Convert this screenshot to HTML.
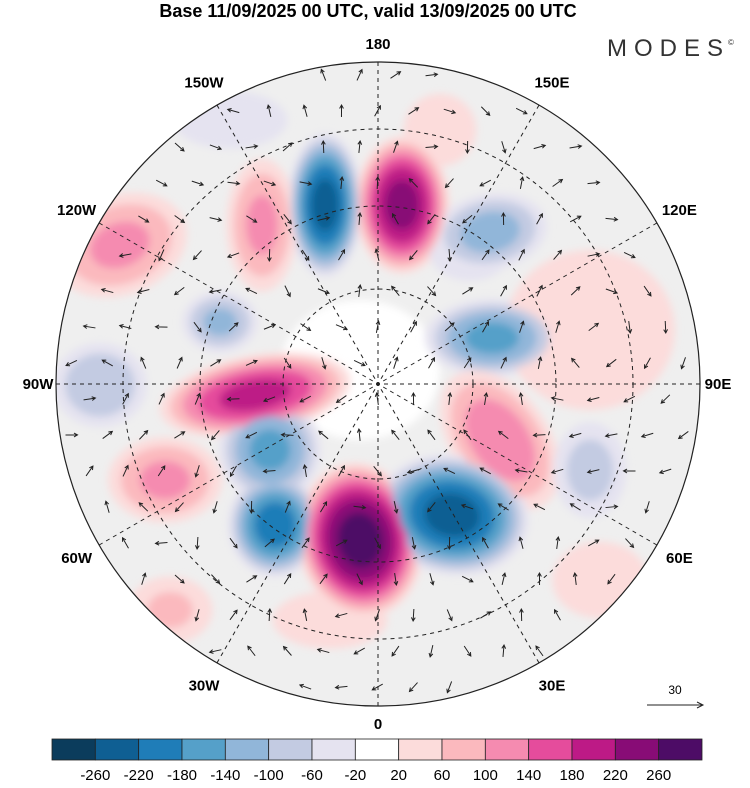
<!DOCTYPE html>
<html><head><meta charset="utf-8"><style>
body{margin:0;background:#fff;width:750px;height:783px;overflow:hidden;font-family:"Liberation Sans",sans-serif}
</style></head><body>
<svg id="s" width="750" height="783" viewBox="0 0 750 783" xmlns="http://www.w3.org/2000/svg">
<defs>
<clipPath id="cc"><circle cx="378" cy="384" r="322"/></clipPath>
<filter id="bl" x="-20%" y="-20%" width="140%" height="140%"><feGaussianBlur stdDeviation="4"/></filter>
</defs>
<text x="368" y="17" font-size="18" font-weight="bold" text-anchor="middle">Base 11/09/2025 00 UTC, valid 13/09/2025 00 UTC</text>
<text x="607" y="56" font-size="24" fill="#333" letter-spacing="7">MODES</text>
<text x="728" y="45" font-size="8" fill="#333">©</text>
<g id="map" clip-path="url(#cc)">
<circle cx="378" cy="384" r="322" fill="#efefef"/>
<ellipse cx="360" cy="370" rx="80" ry="70" fill="#fff" filter="url(#bl)"/>
<g id="blobs" filter="url(#bl)"></g>
<g id="arrows" stroke="#222" stroke-width="1" fill="none"></g>
<g id="grid" fill="none" stroke="#222" stroke-width="1" stroke-dasharray="4,4"></g>
</g>
<circle cx="378" cy="384" r="322" fill="none" stroke="#222" stroke-width="1.2"/>
<g id="lbl" font-size="15" font-weight="bold"></g>
<g>
<text x="675" y="694" font-size="12" text-anchor="middle">30</text>
<line x1="647" y1="705" x2="703" y2="705" stroke="#222" stroke-width="1"/>
<path d="M697,702 L703,705 L697,708" fill="none" stroke="#222"/>
</g>
<g id="cbar"></g>
</svg>
<script>
const levels=[-260,-220,-180,-140,-100,-60,-20,20,60,100,140,180,220,260];
const colors=["#0b3c5c","#0f5f93","#1f7db8","#55a0c9","#91b6d9","#c3cbe2","#e5e3f0","#ffffff","#fcdcdb","#fbb9be","#f58bb0","#e54c9c","#bd1a86","#880c76","#4d0c66"];
// blobs: cx, cy, rx, ry, rotation, peak value
const blobX=[325,402,262,490,120,220,492,100,255,590,500,270,275,165,360,452,590,170,330,470,600,230,440];
const blobY=[205,205,225,232,245,322,338,385,395,330,440,450,525,480,540,515,470,610,620,250,580,120,130];
const blobRX=[30,38,30,48,58,32,55,40,78,85,40,42,38,48,50,62,32,38,60,40,50,60,35];
const blobRY=[58,55,56,32,42,26,32,36,32,80,65,42,42,36,62,48,42,30,30,30,40,30,35];
const blobRot=[0,0,0,-10,-20,0,0,0,-10,0,-35,20,0,0,-10,10,0,0,0,0,0,0,0];
const blobVal=[-230,230,110,-120,110,-110,-150,-100,190,45,130,-150,-200,110,270,-230,-80,70,40,-50,40,-40,50];
const NS="http://www.w3.org/2000/svg";
function colorOf(v){let i=0;while(i<levels.length&&v>levels[i])i++;return colors[i];}
const bg=document.getElementById('blobs');
const layers=[];
blobVal.forEach((pk,b)=>{
  const sign=pk>0?1:-1;
  levels.filter(l=>sign>0?(l>0&&l<pk):(l<0&&l>pk)).forEach(lv=>layers.push([b,lv,sign,pk]));
});
layers.sort((a,c)=>Math.abs(a[1])-Math.abs(c[1]));
layers.forEach(([b,lv,sign,pk])=>{
  const f=Math.sqrt(1-Math.abs(lv)/Math.abs(pk)*0.92);
  const e=document.createElementNS(NS,'ellipse');
  
  
  e.setAttribute('cx',blobX[b]);e.setAttribute('cy',blobY[b]);
  e.setAttribute('rx',blobRX[b]*f*1.3);e.setAttribute('ry',blobRY[b]*f*1.3);
  e.setAttribute('transform',`rotate(${blobRot[b]} ${blobX[b]} ${blobY[b]})`);
  e.setAttribute('fill',colorOf(lv+sign*1));
  bg.appendChild(e);
});
const cx=378,cy=384,R=322;
const ag=document.getElementById('arrows');
for(let gy=75;gy<700;gy+=36){
  for(let gx=70+((gy/36)%2)*18;gx<700;gx+=36){
    if(Math.hypot(gx-cx,gy-cy)>R-8)continue;
    let u=0,v=0;
    blobVal.forEach((pk,b)=>{
      const dx=gx-blobX[b],dy=gy-blobY[b];
      const d2=(dx*dx+dy*dy)/(blobRX[b]*blobRY[b]*3);
      const w=Math.exp(-d2)*Math.sign(pk);
      u+=-dy*w;v+=dx*w;
    });
    const m=Math.hypot(u,v)||1;
    const L=12;const ux=u/m*L,vy=v/m*L;
    const p=document.createElementNS(NS,'path');
    
    
    const x2=gx+ux/2,y2=gy+vy/2;
    const ang=Math.atan2(vy,ux);
    const hx1=x2-4*Math.cos(ang-0.5),hy1=y2-4*Math.sin(ang-0.5);
    const hx2=x2-4*Math.cos(ang+0.5),hy2=y2-4*Math.sin(ang+0.5);
    p.setAttribute('d',`M${gx-ux/2},${gy-vy/2}L${x2},${y2}M${hx1},${hy1}L${x2},${y2}L${hx2},${hy2}`);
    ag.appendChild(p);
  }
}
const grid=document.getElementById('grid');
[95,178,255].forEach(r=>{
  const c=document.createElementNS(NS,'circle');
  
  
  c.setAttribute('cx',cx);c.setAttribute('cy',cy);c.setAttribute('r',r);grid.appendChild(c);
});
for(let a=0;a<180;a+=30){
  const t=a*Math.PI/180;
  const l=document.createElementNS(NS,'line');
  
  
  l.setAttribute('x1',cx+R*Math.sin(t));l.setAttribute('y1',cy+R*Math.cos(t));
  l.setAttribute('x2',cx-R*Math.sin(t));l.setAttribute('y2',cy-R*Math.cos(t));
  grid.appendChild(l);
}
const lonLabels=["0","30E","60E","90E","120E","150E","180","150W","120W","90W","60W","30W"];
const lg=document.getElementById('lbl');
lonLabels.forEach((s,i)=>{
  const t=i*30*Math.PI/180;
  const rr=(i%3===0)?R+18:R+26;
  const x=cx+rr*Math.sin(t), y=cy+rr*Math.cos(t)+5;
  const tx=document.createElementNS(NS,'text');
  
  
  tx.setAttribute('x',x);tx.setAttribute('y',y);tx.setAttribute('text-anchor','middle');
  tx.textContent=s;lg.appendChild(tx);
});
const cb=document.getElementById('cbar');
const x0=52,x1=702,bw=(x1-x0)/colors.length;
colors.forEach((c,i)=>{
  const r=document.createElementNS(NS,'rect');
  
  
  r.setAttribute('x',x0+i*bw);r.setAttribute('y',739);r.setAttribute('width',bw);r.setAttribute('height',21);
  r.setAttribute('fill',c);r.setAttribute('stroke','#222');r.setAttribute('stroke-width','0.8');cb.appendChild(r);
});
levels.forEach((v,i)=>{
  const t=document.createElementNS(NS,'text');
  
  
  t.setAttribute('x',x0+(i+1)*bw);t.setAttribute('y',780);t.setAttribute('font-size','15');t.setAttribute('text-anchor','middle');
  t.textContent=v;cb.appendChild(t);
});
</script>
</body></html>
